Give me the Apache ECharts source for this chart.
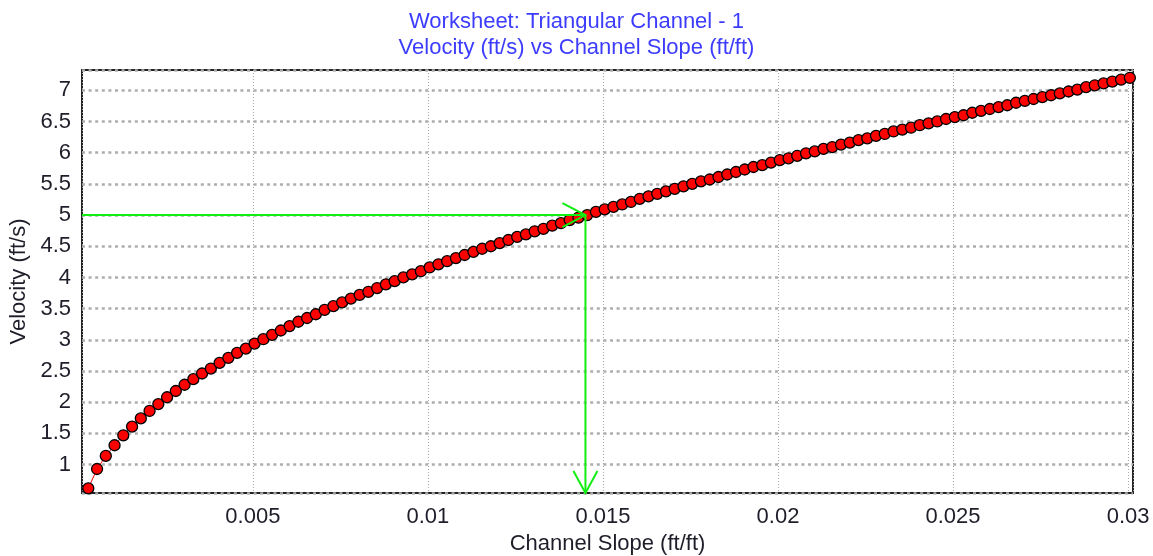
<!DOCTYPE html>
<html>
<head>
<meta charset="utf-8">
<script src="https://cdn.jsdelivr.net/npm/echarts@6/dist/echarts.min.js"></script>
<style>html,body{margin:0;padding:0;background:#fff}#c{width:1153px;height:556px}</style>
</head>
<body>
<div id="c"></div>
<script>
const titleLines = ['Worksheet: Triangular Channel - 1', 'Velocity (ft/s) vs Channel Slope (ft/ft)'];
const xName = 'Channel Slope (ft/ft)';
const yName = 'Velocity (ft/s)';

const slope = [
0.0003,0.00055,0.0008,0.00105,0.0013,0.00155,0.0018,0.00205,0.0023,0.00255,
0.0028,0.00305,0.0033,0.00355,0.0038,0.00405,0.0043,0.00455,0.0048,0.00505,
0.0053,0.00555,0.0058,0.00605,0.0063,0.00655,0.0068,0.00705,0.0073,0.00755,
0.0078,0.00805,0.0083,0.00855,0.0088,0.00905,0.0093,0.00955,0.0098,0.01005,
0.0103,0.01055,0.0108,0.01105,0.0113,0.01155,0.0118,0.01205,0.0123,0.01255,
0.0128,0.01305,0.0133,0.01355,0.0138,0.01405,0.0143,0.01455,0.0148,0.01505,
0.0153,0.01555,0.0158,0.01605,0.0163,0.01655,0.0168,0.01705,0.0173,0.01755,
0.0178,0.01805,0.0183,0.01855,0.0188,0.01905,0.0193,0.01955,0.0198,0.02005,
0.0203,0.02055,0.0208,0.02105,0.0213,0.02155,0.0218,0.02205,0.0223,0.02255,
0.0228,0.02305,0.0233,0.02355,0.0238,0.02405,0.0243,0.02455,0.0248,0.02505,
0.0253,0.02555,0.0258,0.02605,0.0263,0.02655,0.0268,0.02705,0.0273,0.02755,
0.0278,0.02805,0.0283,0.02855,0.0288,0.02905,0.0293,0.02955,0.0298,0.03005
];
const velocity = [
0.62,0.93,1.14,1.31,1.47,1.61,1.74,1.86,1.97,2.08,
2.18,2.28,2.37,2.46,2.54,2.63,2.71,2.79,2.86,2.94,
3.01,3.08,3.15,3.22,3.29,3.35,3.41,3.48,3.54,3.60,
3.66,3.72,3.77,3.83,3.89,3.94,4.00,4.05,4.10,4.16,
4.21,4.26,4.31,4.36,4.41,4.46,4.50,4.55,4.60,4.65,
4.69,4.74,4.78,4.83,4.87,4.92,4.96,5.00,5.05,5.09,
5.13,5.17,5.21,5.26,5.30,5.34,5.38,5.42,5.46,5.50,
5.54,5.57,5.61,5.65,5.69,5.73,5.77,5.80,5.84,5.88,
5.91,5.95,5.99,6.02,6.06,6.09,6.13,6.16,6.20,6.23,
6.27,6.30,6.34,6.37,6.40,6.44,6.47,6.50,6.54,6.57,
6.60,6.64,6.67,6.70,6.73,6.76,6.80,6.83,6.86,6.89,
6.92,6.95,6.98,7.01,7.05,7.08,7.11,7.14,7.17,7.20
];
const xRange = [0.00012, 0.03014];
const yRange = [0.545, 7.325];
const marker = [0.0145, 5];

const pts = slope.map((s, i) => [s, velocity[i]]);
const FONT = 'Liberation Sans, Arial, sans-serif';
const GREEN = '#11ee11';
const FS = 22;

const chart = echarts.init(document.getElementById('c'), null, {renderer: 'canvas'});
chart.setOption({
  animation: false,
  backgroundColor: '#fff',
  title: {
    text: titleLines.join('\n'),
    left: 'center', top: 4,
    textStyle: {color: '#3c3cff', fontSize: FS, fontWeight: 'normal', fontFamily: FONT, lineHeight: 26}
  },
  grid: {left: 82, right: 20, top: 70, bottom: 63, show: true, borderColor: '#222', borderWidth: 2,
         backgroundColor: '#fff', containLabel: false, outerBoundsMode: 'none'},
  xAxis: {
    type: 'value', min: xRange[0], max: xRange[1], splitNumber: 6,
    name: xName, nameLocation: 'middle', nameGap: 38,
    nameTextStyle: {color: '#1e1e2a', fontSize: FS, fontFamily: FONT},
    axisLine: {show: false}, axisTick: {show: false},
    axisLabel: {color: '#1e1e2a', fontSize: FS, fontFamily: FONT, margin: 13, showMinLabel: false, showMaxLabel: false},
    splitLine: {show: true, lineStyle: {color: '#a8a8a8', width: 1, type: [1, 2]}}
  },
  yAxis: {
    type: 'value', min: yRange[0], max: yRange[1], splitNumber: 14,
    name: yName, nameLocation: 'middle', nameGap: 51, nameRotate: 90,
    nameTextStyle: {color: '#1e1e2a', fontSize: FS, fontFamily: FONT},
    axisLine: {show: false}, axisTick: {show: false},
    axisLabel: {color: '#1e1e2a', fontSize: FS, fontFamily: FONT, margin: 11, showMinLabel: false, showMaxLabel: false},
    splitLine: {show: true, lineStyle: {color: '#adadad', width: 2.5, type: [3, 3.6]}}
  },
  series: [
    {
      type: 'line', data: pts, symbol: 'circle', symbolSize: 11, showAllSymbol: true,
      itemStyle: {color: '#ff0000', borderColor: '#000', borderWidth: 1.3},
      lineStyle: {color: '#ff0000', width: 1}, z: 3
    },
    {
      type: 'custom', data: [marker], z: 5,
      renderItem: function (params, api) {
        const tip = api.coord([api.value(0), api.value(1)]);
        const left = api.coord([xRange[0], api.value(1)]);
        const bot = api.coord([api.value(0), yRange[0]]);
        const st = {stroke: GREEN, lineWidth: 2, fill: null};
        return {type: 'group', children: [
          {type: 'line', shape: {x1: left[0], y1: tip[1], x2: tip[0], y2: tip[1]}, style: st},
          {type: 'polyline', shape: {points: [[tip[0]-23, tip[1]-12], [tip[0], tip[1]], [tip[0]-23, tip[1]+12]]}, style: st},
          {type: 'line', shape: {x1: tip[0], y1: tip[1], x2: tip[0], y2: bot[1]}, style: st},
          {type: 'polyline', shape: {points: [[bot[0]-12, bot[1]-22], [bot[0], bot[1]], [bot[0]+12, bot[1]-22]]}, style: st}
        ]};
      }
    }
  ]
});
</script>
</body>
</html>
